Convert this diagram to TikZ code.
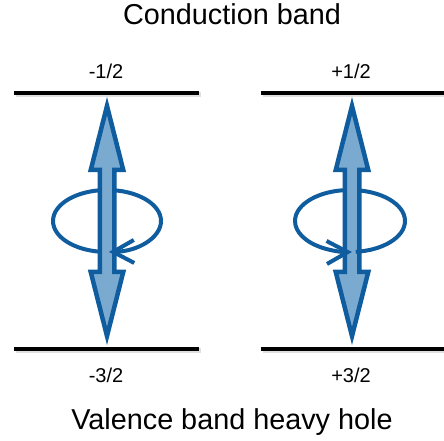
\documentclass[tikz,border=0pt]{standalone}
\usepackage{fontspec}
\setmainfont{Liberation Sans}
\usetikzlibrary{arrows.meta}
\definecolor{spinblue}{HTML}{0F5C9E}
\definecolor{spinfill}{HTML}{7BAAD1}

\begin{document}
\begin{tikzpicture}[
    x=1pt,
    y=1pt,
    level/.style={line width=4.8pt, draw=black},
    levelshadow/.style={line width=4.8pt, draw=black!12},
    spin/.style={line width=4.5pt, draw=spinblue, fill=spinfill, line join=miter},
    orbit/.style={line width=4pt, draw=spinblue},
    orbittip/.style={orbit, -{Straight Barb[length=21pt, width=23pt]}},
    lbl/.style={font=\fontsize{20}{23}\selectfont, anchor=base},
    band/.style={font=\fontsize{28.8}{33}\selectfont, anchor=base}
  ]
  \useasboundingbox (0,0) rectangle (444,441);

  % band titles
  \node[band] (cb) at (232,416) {Conduction band};
  \node[band] (vb) at (232,11) {Valence band heavy hole};

  % levels
  \foreach \y in {348,92} {
    \draw[levelshadow] (15.5,\y-1.5) -- (200.5,\y-1.5);
    \draw[levelshadow] (262.5,\y-1.5) -- (444,\y-1.5);
    \draw[level] (14,\y) -- (199,\y);
    \draw[level] (261,\y) -- (444,\y);
  }
  \node[lbl] (cbdown) at (106,362) {-1/2};
  \node[lbl] (cbup) at (351,362) {+1/2};
  \node[lbl] (vbdown) at (106,58) {-3/2};
  \node[lbl] (vbup) at (351,58) {+3/2};

  % back halves of the orbits
  \draw[orbit] (161,220) arc[start angle=0, end angle=180, x radius=54, y radius=31];
  \draw[orbit] (405,220) arc[start angle=0, end angle=180, x radius=55, y radius=31];

  % double arrows
  \foreach \cx in {107,352} {
    \draw[spin] (\cx,335) -- ++(16.25,-64) -- ++(-9,0) -- ++(0,-102) -- ++(9,0)
      -- ++(-16.25,-64) -- ++(-16.25,64) -- ++(9,0) -- ++(0,102) -- ++(-9,0) -- cycle;
  }

  % front halves of the orbits
  \draw[orbit] (53,220) arc[start angle=180, end angle=264, x radius=54, y radius=31];
  \draw[orbittip] (161,220) arc[start angle=0, end angle=-88, x radius=54, y radius=31];
  \draw[orbit] (405,220) arc[start angle=0, end angle=-84, x radius=55, y radius=31];
  \draw[orbittip] (295,220) arc[start angle=180, end angle=272, x radius=55, y radius=31];
\end{tikzpicture}
\end{document}
